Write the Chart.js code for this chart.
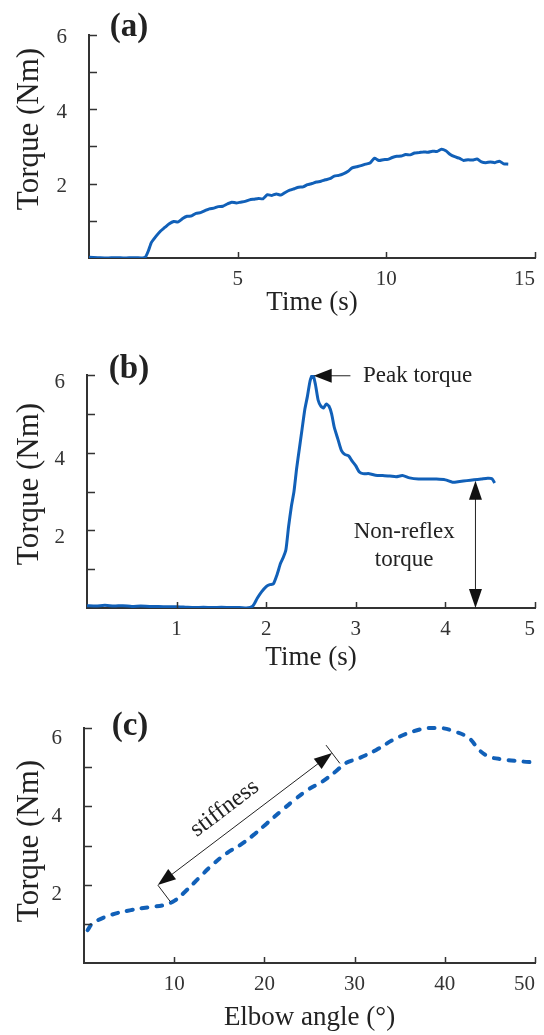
<!DOCTYPE html>
<html lang="en">
<head>
  <meta charset="UTF-8">
  <title>Torque panels</title>
  <script src="https://cdn.jsdelivr.net/npm/chart.js"></script>
  <style>
    html, body { margin: 0; padding: 0; background: #fff; }
    body { width: 544px; height: 1035px; position: relative; overflow: hidden; }
    .panel { position: absolute; left: 0; width: 544px; }
    canvas { display: block; }
  </style>
</head>
<body>
  <div class="panel" style="top:0px;height:320px"><canvas id="chartA" width="544" height="320"></canvas></div>
  <div class="panel" style="top:320px;height:355px"><canvas id="chartB" width="544" height="355"></canvas></div>
  <div class="panel" style="top:675px;height:360px"><canvas id="chartC" width="544" height="360"></canvas></div>

  <script>
    // (a) ramp trial
    const timeA = [0.0, 0.3, 0.6, 0.9, 1.2, 1.5, 1.8, 1.9, 2.0, 2.1, 2.25, 2.4, 2.55, 2.7, 2.85, 3.0,
      3.15, 3.3, 3.45, 3.6, 3.75, 3.9, 4.05, 4.2, 4.35, 4.5, 4.65, 4.8, 4.95, 5.1, 5.25, 5.4,
      5.55, 5.7, 5.85, 6.0, 6.15, 6.3, 6.45, 6.6, 6.75, 6.9, 7.05, 7.2, 7.35, 7.5, 7.65, 7.8,
      7.95, 8.1, 8.25, 8.4, 8.55, 8.7, 8.85, 9.0, 9.15, 9.3, 9.45, 9.6, 9.75, 9.9, 10.05, 10.2,
      10.35, 10.5, 10.65, 10.8, 10.95, 11.1, 11.25, 11.4, 11.55, 11.7, 11.85, 12.0, 12.15, 12.3,
      12.45, 12.6, 12.75, 12.9, 13.05, 13.2, 13.35, 13.5, 13.65, 13.8, 13.95, 14.1];
    const torqueA = [0.02, 0.01, 0.0, 0.01, 0.0, 0.01, 0.0, 0.03, 0.2, 0.42, 0.58, 0.72, 0.82, 0.92, 0.98, 0.97,
      1.06, 1.12, 1.13, 1.2, 1.22, 1.27, 1.32, 1.34, 1.38, 1.39, 1.45, 1.5, 1.48, 1.5, 1.52, 1.56,
      1.58, 1.6, 1.59, 1.7, 1.68, 1.72, 1.69, 1.76, 1.82, 1.86, 1.9, 1.91, 1.97, 2.0, 2.04, 2.06,
      2.1, 2.13, 2.2, 2.22, 2.26, 2.32, 2.42, 2.45, 2.48, 2.52, 2.55, 2.68, 2.62, 2.64, 2.65, 2.7,
      2.73, 2.74, 2.78, 2.77, 2.82, 2.83, 2.85, 2.84, 2.87, 2.86, 2.92, 2.88, 2.78, 2.72,
      2.68, 2.62, 2.64, 2.63, 2.66, 2.58, 2.56, 2.58, 2.56, 2.6, 2.53, 2.52];

    // (b) fast stretch
    const timeB = [0, 0.1, 0.2, 0.3, 0.4, 0.5, 0.6, 0.7, 0.8, 0.9, 1.0, 1.1, 1.2, 1.3, 1.4, 1.5, 1.6, 1.7,
      1.78, 1.85, 1.9, 1.95, 2.0, 2.04, 2.08, 2.12, 2.16, 2.19, 2.22, 2.25, 2.28, 2.31, 2.34, 2.37,
      2.4, 2.43, 2.46, 2.49, 2.52, 2.55, 2.58, 2.61, 2.64, 2.67, 2.7, 2.73, 2.76, 2.8, 2.84, 2.88,
      2.92, 2.96, 3.0, 3.04, 3.08, 3.15, 3.22, 3.3, 3.38, 3.45, 3.52, 3.6, 3.7, 3.8, 3.9, 4.0,
      4.08, 4.16, 4.24, 4.32, 4.4, 4.47, 4.52, 4.55];
    const torqueB = [0.06, 0.05, 0.07, 0.05, 0.06, 0.04, 0.05, 0.04, 0.04, 0.03, 0.03, 0.02, 0.01, 0.02, 0.01, 0.02, 0.01, 0.01,
      0.0, 0.05, 0.25, 0.42, 0.55, 0.6, 0.62, 0.85, 1.15, 1.3, 1.5, 2.1, 2.6, 3.0, 3.6, 4.1,
      4.6, 5.1, 5.45, 5.85, 6.02, 5.75, 5.35, 5.2, 5.15, 5.25, 5.2, 5.0, 4.65, 4.35, 4.05, 3.95,
      3.92, 3.78, 3.66, 3.5, 3.46, 3.46, 3.42, 3.41, 3.4, 3.38, 3.41, 3.35, 3.32, 3.32, 3.32, 3.3,
      3.24, 3.26, 3.28, 3.3, 3.32, 3.34, 3.33, 3.22];

    // (c) torque vs elbow angle
    const angleC = [0.4, 1.0, 2.9, 5.2, 7.4, 8.9, 10.1, 11.2, 12.7, 14.2, 15.8, 17.3, 18.8, 20.3, 21.8,
      23.3, 24.8, 26.4, 27.9, 29.0, 30.5, 32.4, 34.3, 36.2, 38.1, 39.6, 41.1, 42.7, 43.8, 44.9,
      46.4, 48.3, 50.1];
    const torqueC = [0.84, 1.02, 1.22, 1.35, 1.43, 1.48, 1.6, 1.82, 2.16, 2.5, 2.8, 3.01, 3.27, 3.57, 3.87,
      4.16, 4.42, 4.63, 4.89, 5.1, 5.23, 5.44, 5.7, 5.89, 6.0, 6.0, 5.91, 5.74, 5.44, 5.27,
      5.2, 5.15, 5.12];

    const yTicks = [0, 2, 4, 6];

    const BLUE = '#1160b8';
    const AXIS = '#333333';
    const SERIF = "'Liberation Serif', 'Times New Roman', serif";

    Chart.defaults.font.family = SERIF;
    Chart.defaults.color = '#333';

    function pts(xs, ys) { return xs.map((x, i) => ({ x: x, y: ys[i] })); }

    function arrowHead(ctx, tx, ty, fx, fy, len, half) {
      const a = Math.atan2(ty - fy, tx - fx);
      ctx.beginPath();
      ctx.moveTo(tx, ty);
      ctx.lineTo(tx - len * Math.cos(a) + half * Math.sin(a), ty - len * Math.sin(a) - half * Math.cos(a));
      ctx.lineTo(tx - len * Math.cos(a) - half * Math.sin(a), ty - len * Math.sin(a) + half * Math.cos(a));
      ctx.closePath();
      ctx.fill();
    }

    // short tick marks pointing into the plot, like the original figure
    const innerTicks = {
      id: 'innerTicks',
      afterDraw(chart) {
        const { ctx, chartArea: ca, scales: { x, y } } = chart;
        ctx.save();
        ctx.strokeStyle = AXIS;
        ctx.lineWidth = 1.5;
        ctx.beginPath();
        x.ticks.forEach(t => {
          if (t.value === x.min) return;
          const px = Math.round(x.getPixelForValue(t.value)) + 0.5;
          ctx.moveTo(px, ca.bottom); ctx.lineTo(px, ca.bottom - 6);
        });
        y.ticks.forEach(t => {
          if (t.value === y.min) return;
          const py = Math.round(y.getPixelForValue(t.value)) + 0.5;
          ctx.moveTo(ca.left, py); ctx.lineTo(ca.left + 8, py);
        });
        ctx.stroke();
        ctx.restore();
      }
    };

    // panel letter and rotated y title
    function frameText(ctx, letter, lx, ly, ty) {
      ctx.save();
      ctx.fillStyle = '#222';
      ctx.textAlign = 'center';
      ctx.textBaseline = 'middle';
      ctx.font = 'bold 33px ' + SERIF;
      ctx.fillText(letter, lx, ly);
      ctx.translate(30, ty);
      ctx.rotate(-Math.PI / 2);
      ctx.font = '31px ' + SERIF;
      ctx.fillText('Torque (Nm)', 0, 0);
      ctx.restore();
    }

    function makeOptions(cfg) {
      return {
        responsive: false,
        animation: false,
        layout: { padding: { top: cfg.top, right: cfg.right, left: 0, bottom: 0 } },
        plugins: { legend: { display: false }, tooltip: { enabled: false } },
        elements: { point: { radius: 0 } },
        scales: {
          x: {
            type: 'linear', min: 0, max: cfg.xMax,
            grid: { display: false, drawTicks: false },
            border: { display: true, color: AXIS, width: 2 },
            ticks: {
              stepSize: cfg.xStep, padding: 9, align: 'inner', color: '#333',
              font: { size: 21 },
              callback: v => (v === 0 ? '' : v)
            },
            title: { display: true, text: cfg.xTitle, color: '#222', font: { size: 27 }, padding: { top: 0, bottom: 1 } },
            afterFit: s => { s.height = cfg.xH; }
          },
          y: {
            min: 0, max: 6,
            grid: { display: false, drawTicks: false },
            border: { display: true, color: AXIS, width: 2 },
            ticks: {
              stepSize: 1, padding: 22, color: '#333', labelOffset: cfg.yOff,
              font: { size: 21 },
              callback: v => (yTicks.includes(v) && v !== 0 ? v : '')
            },
            afterFit: s => { s.width = cfg.yW; }
          }
        }
      };
    }

    // ---- (a)
    new Chart(document.getElementById('chartA'), {
      type: 'line',
      data: { datasets: [{ data: pts(timeA, torqueA), borderColor: BLUE, borderWidth: 3, tension: 0.2, fill: false }] },
      options: makeOptions({ top: 26, right: 1, xMax: 15, xStep: 5, xTitle: 'Time (s)', xH: 62, yW: 89, yOff: 3 }),
      plugins: [innerTicks, {
        id: 'notesA',
        afterDraw(chart) { frameText(chart.ctx, '(a)', 129, 27, 129); }
      }]
    });

    // ---- (b)
    new Chart(document.getElementById('chartB'), {
      type: 'line',
      data: { datasets: [{ data: pts(timeB, torqueB), borderColor: BLUE, borderWidth: 3, tension: 0.2, fill: false }] },
      options: makeOptions({ top: 55, right: 3, xMax: 5, xStep: 1, xTitle: 'Time (s)', xH: 67, yW: 87, yOff: 7 }),
      plugins: [innerTicks, {
        id: 'notesB',
        afterDraw(chart) {
          const { ctx, scales: { x, y } } = chart;
          frameText(ctx, '(b)', 129, 49, 164);
          ctx.save();
          ctx.strokeStyle = '#222';
          ctx.fillStyle = '#111';
          ctx.lineWidth = 1;
          // peak torque pointer
          const tipX = x.getPixelForValue(2.53), tipY = y.getPixelForValue(5.98);
          const endX = x.getPixelForValue(2.94);
          ctx.beginPath(); ctx.moveTo(tipX + 10, tipY); ctx.lineTo(endX, tipY); ctx.stroke();
          arrowHead(ctx, tipX, tipY, endX, tipY, 18, 7);
          // non-reflex torque span
          const ax = x.getPixelForValue(4.33);
          const top = y.getPixelForValue(3.28), bot = y.getPixelForValue(0);
          ctx.beginPath(); ctx.moveTo(ax + 0.5, top + 10); ctx.lineTo(ax + 0.5, bot - 10); ctx.stroke();
          arrowHead(ctx, ax + 0.5, top, ax + 0.5, bot, 19, 6.5);
          arrowHead(ctx, ax + 0.5, bot, ax + 0.5, top, 19, 6.5);
          ctx.fillStyle = '#222';
          ctx.font = '23px ' + SERIF;
          ctx.textBaseline = 'middle';
          ctx.textAlign = 'left';
          ctx.fillText('Peak torque', x.getPixelForValue(3.08), tipY);
          ctx.textAlign = 'center';
          const cx = x.getPixelForValue(3.54);
          ctx.fillText('Non-reflex', cx, y.getPixelForValue(1.97));
          ctx.fillText('torque', cx, y.getPixelForValue(1.24));
          ctx.restore();
        }
      }]
    });

    // ---- (c)
    new Chart(document.getElementById('chartC'), {
      type: 'line',
      data: { datasets: [{ data: pts(angleC, torqueC), borderColor: BLUE, borderWidth: 4, borderDash: [6, 9], borderCapStyle: 'round', tension: 0.4, fill: false, clip: false }] },
      options: makeOptions({ top: 53, right: 1, xMax: 50, xStep: 10, xTitle: 'Elbow angle (°)', xH: 72, yW: 84, yOff: 10 }),
      plugins: [innerTicks, {
        id: 'notesC',
        afterDraw(chart) {
          const { ctx, scales: { x, y } } = chart;
          frameText(ctx, '(c)', 130, 51, 166);
          const x1 = x.getPixelForValue(8.18), y1 = y.getPixelForValue(1.99);
          const x2 = x.getPixelForValue(27.5), y2 = y.getPixelForValue(5.36);
          const len = Math.hypot(x2 - x1, y2 - y1);
          const ux = (x2 - x1) / len, uy = (y2 - y1) / len;
          const px = -uy, py = ux; // perpendicular, pointing down-right
          ctx.save();
          ctx.strokeStyle = '#222';
          ctx.fillStyle = '#111';
          ctx.lineWidth = 1;
          ctx.beginPath();
          ctx.moveTo(x1 + ux * 10, y1 + uy * 10); ctx.lineTo(x2 - ux * 10, y2 - uy * 10);
          ctx.moveTo(x1, y1); ctx.lineTo(x1 + px * 21, y1 + py * 21);
          ctx.moveTo(x2 - px * 10, y2 - py * 10); ctx.lineTo(x2 + px * 13, y2 + py * 13);
          ctx.stroke();
          arrowHead(ctx, x1, y1, x2, y2, 18, 6.5);
          arrowHead(ctx, x2, y2, x1, y1, 18, 6.5);
          ctx.fillStyle = '#222';
          ctx.font = '24px ' + SERIF;
          ctx.translate(x.getPixelForValue(15.6), y.getPixelForValue(3.95));
          ctx.rotate(Math.atan2(y2 - y1, x2 - x1));
          ctx.textAlign = 'center';
          ctx.textBaseline = 'middle';
          ctx.fillText('stiffness', 0, 0);
          ctx.restore();
        }
      }]
    });
  </script>
</body>
</html>
